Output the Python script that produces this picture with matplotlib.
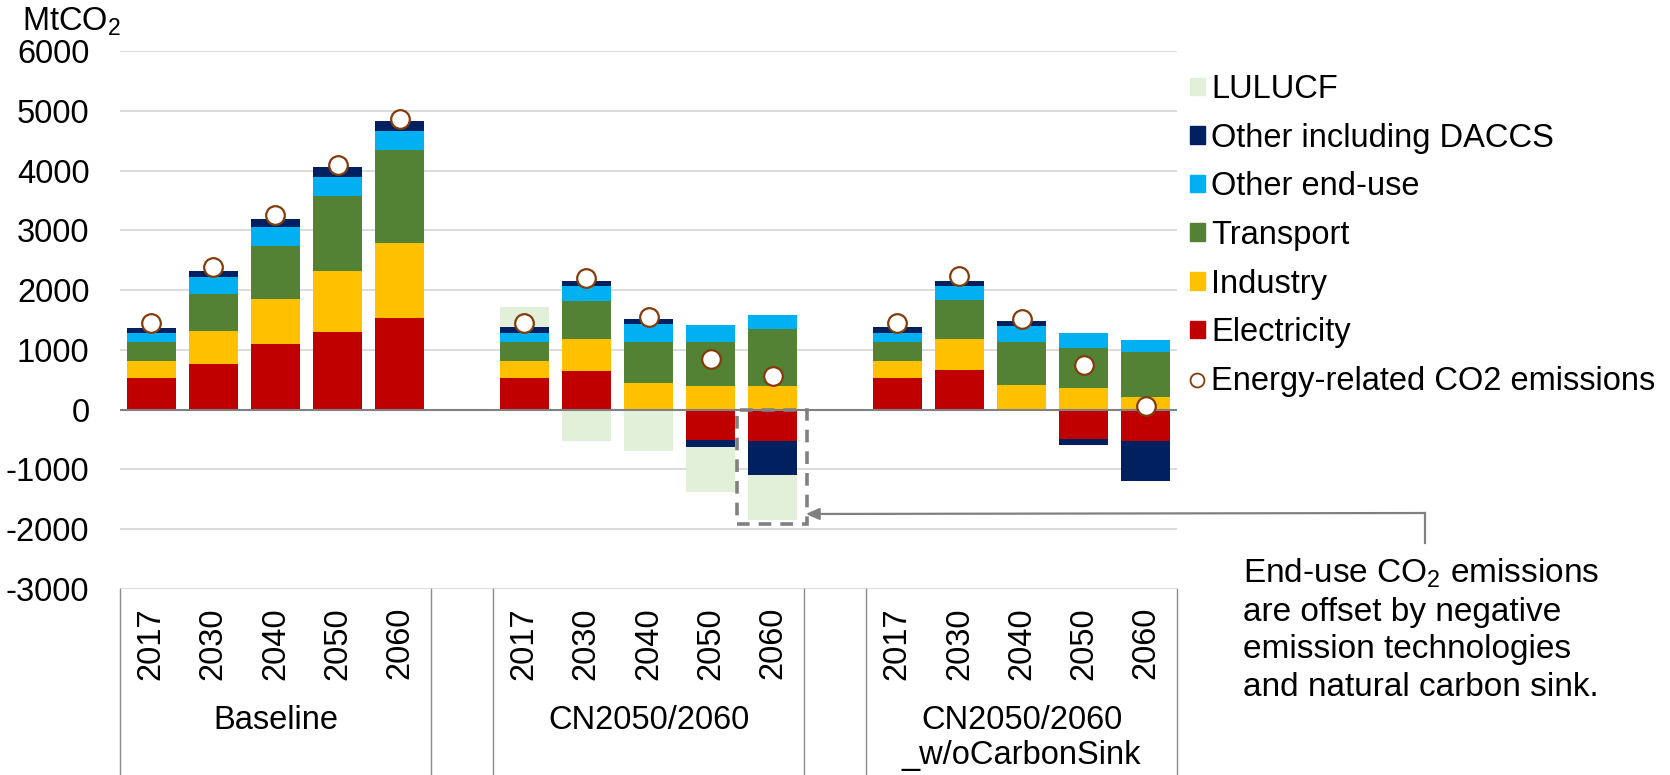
#!/usr/bin/env python3
"""
CO2 emissions by sector under three scenarios (stacked bars)
"""

import numpy as np
import matplotlib.pyplot as plt
import matplotlib.transforms as mtransforms
from matplotlib.patches import Patch, Rectangle
from matplotlib.lines import Line2D

plt.rcParams['font.family'] = ['Liberation Sans', 'DejaVu Sans']
plt.rcParams['mathtext.fontset'] = 'custom'
plt.rcParams['mathtext.rm'] = 'Liberation Sans'
plt.rcParams['mathtext.it'] = 'Liberation Sans'

scenarios = ['Baseline', 'CN2050/2060', 'CN2050/2060\n_w/oCarbonSink']
years = ['2017', '2030', '2040', '2050', '2060']

# MtCO2, 15 bars = 3 scenarios x 5 years
electricity = [535, 766, 1100, 1300, 1540, 530, 640, 10, -500, -530, 530, 670, 10, -485, -530]
industry    = [275, 548, 745, 1020, 1240, 280, 540, 435, 390, 390, 280, 510, 395, 360, 220]
transport   = [325, 616, 895, 1260, 1565, 330, 635, 695, 750, 955, 330, 660, 735, 670, 750]
other_end   = [140, 290, 310, 320, 315, 145, 250, 300, 280, 240, 145, 225, 255, 250, 200]
other_daccs = [95, 100, 140, 155, 165, 95, 90, 80, -130, -570, 95, 90, 90, -110, -670]
lulucf      = [0, 0, 0, 0, 0, 340, -520, -690, -740, -750, 0, 0, 0, 0, 0]
energy_co2  = [1450, 2390, 3250, 4100, 4870, 1450, 2200, 1550, 840, 570, 1450, 2230, 1520, 740, 60]

series = [
    ('Electricity', electricity, '#C00000'),
    ('Industry', industry, '#FFC000'),
    ('Transport', transport, '#548235'),
    ('Other end-use', other_end, '#00B0F0'),
    ('Other including DACCS', other_daccs, '#002060'),
    ('LULUCF', lulucf, '#E2F0D9'),
]

fs = 23.5

# one empty slot between scenarios
n_years = len(years)
xpos = np.array([g * (n_years + 1) + i for g in range(len(scenarios)) for i in range(n_years)])
n_slots = len(scenarios) * (n_years + 1) - 1

fig = plt.figure(figsize=(16.7, 7.75), dpi=100)
ax = fig.add_axes([120 / 1670, 1 - 589 / 775, 1057 / 1670, 538 / 775])

pos_bottom = np.zeros(len(xpos))
neg_bottom = np.zeros(len(xpos))
for name, vals, color in series:
    vals = np.array(vals, dtype=float)
    bottom = np.where(vals >= 0, pos_bottom, neg_bottom)
    ax.bar(xpos, vals, 0.79, bottom=bottom, color=color, zorder=2)
    pos_bottom += np.clip(vals, 0, None)
    neg_bottom += np.clip(vals, None, 0)

ax.scatter(xpos, energy_co2, s=180, facecolor='white', edgecolor='#843C0C',
           linewidth=1.6, zorder=4)

ax.axhline(0, color='#808080', lw=1.5, zorder=3)

ax.set_xlim(-0.5, n_slots - 0.5)
ax.set_ylim(-3000, 6000)
yticks = np.arange(-3000, 6001, 1000)
ax.set_yticks(yticks)
ax.set_yticklabels([str(t) for t in yticks], fontsize=fs)
ax.tick_params(axis='y', length=0, pad=22)
ax.set_xticks([])
ax.grid(axis='y', color='#D9D9D9', lw=1.3, zorder=0)
ax.set_axisbelow(True)
for s in ax.spines.values():
    s.set_visible(False)

# category table below the plot
trans = mtransforms.blended_transform_factory(ax.transData, fig.transFigure)
bounds = [-0.5]
for g in range(len(scenarios)):
    start = g * (n_years + 1) - 0.5
    bounds += [start, start + n_years]
for b in sorted(set(bounds)):
    ax.plot([b, b], [1 - 589 / 775, 0], transform=trans, color='#8C8C8C',
            lw=1.0, clip_on=False)

for x, yr in zip(xpos, years * len(scenarios)):
    ax.text(x, 1 - 607 / 775, yr, transform=trans, rotation=90, ha='center',
            va='top', fontsize=fs)

for g, name in enumerate(scenarios):
    xc = g * (n_years + 1) + (n_years - 1) / 2
    for k, line in enumerate(name.split('\n')):
        ax.text(xc, 1 - (729 + 35 * k) / 775, line, transform=trans,
                ha='center', va='baseline', fontsize=fs)

fig.text(22 / 1670, 1 - 31 / 775, 'MtCO$_2$', fontsize=fs, va='baseline')

# dashed box around CN2050/2060 2060 negatives + callout
ax.add_patch(Rectangle((9.42, -1913), 1.13, 1913, fill=False, ls=(0, (3.5, 2.5)),
                       lw=2.6, edgecolor='#808080', zorder=5, clip_on=False))
fig.add_artist(Line2D([1425 / 1670, 1425 / 1670], [1 - 543 / 775, 1 - 513 / 775],
                      color='#808080', lw=1.6))
ax.annotate('', xy=(10.53, -1745), xycoords='data',
            xytext=(1425 / 1670, 1 - 513 / 775), textcoords='figure fraction',
            arrowprops=dict(arrowstyle='-|>,head_length=0.8,head_width=0.35',
                            color='#808080', lw=1.6, shrinkA=0, shrinkB=0))

note = ['End-use CO$_2$ emissions', 'are offset by negative',
        'emission technologies', 'and natural carbon sink.']
for k, line in enumerate(note):
    fig.text(1243 / 1670, 1 - (583 + 37.5 * k) / 775, line, fontsize=24, va='baseline')

handles = [Patch(color=c, label=n) for n, v, c in series[::-1]]
handles.append(Line2D([], [], ls='none', marker='o', markersize=10,
                      markerfacecolor='white', markeredgecolor='#843C0C',
                      markeredgewidth=1.3, label='Energy-related CO2 emissions'))
fig.legend(handles=handles, loc='upper left', bbox_to_anchor=(1190 / 1670, 1 - 74 / 775),
           frameon=False, fontsize=23.5, handlelength=0.45, handleheight=0.45,
           handletextpad=0.2, labelspacing=0.54, borderpad=0, borderaxespad=0)

plt.savefig('out.png', dpi=100)
print('Plot saved to: out.png')
